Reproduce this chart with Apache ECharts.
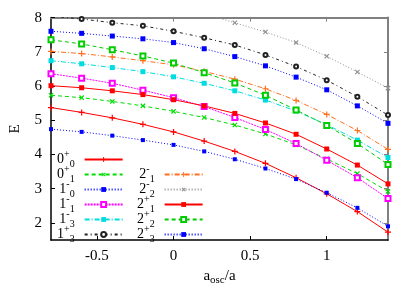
<!DOCTYPE html>
<html><head><meta charset="utf-8">
<script src="https://cdn.jsdelivr.net/npm/echarts@6/dist/echarts.min.js"></script>
<style>html,body{margin:0;padding:0;background:#fff}#c{width:415px;height:291px}</style>
</head><body><div id="c"></div>
<script>
const xs = [-0.8,-0.6,-0.4,-0.2,0,0.2,0.4,0.6,0.8,1.0,1.2,1.4];
const xTicks = [-0.5,0,0.5,1];
const yTicks = [2,3,4,5,6,7,8];
const e0p0 = [5.37,5.23,5.07,4.88,4.66,4.39,4.09,3.74,3.32,2.85,2.33,1.73];
const e0p1 = [5.73,5.66,5.55,5.42,5.26,5.08,4.86,4.60,4.28,3.87,3.44,2.92];
const e1m0 = [4.74,4.66,4.55,4.42,4.28,4.09,3.86,3.59,3.28,2.88,2.44,1.90];
const e1m1 = [6.36,6.23,6.08,5.88,5.66,5.40,5.08,4.73,4.32,3.83,3.32,2.71];
const e1m3 = [6.74,6.65,6.54,6.42,6.27,6.08,5.86,5.59,5.27,4.87,4.42,3.91];
const e1p3 = [8.04,7.96,7.85,7.76,7.60,7.41,7.20,6.91,6.57,6.17,5.69,5.15];
const e2m1 = [7.01,6.95,6.85,6.74,6.62,6.43,6.20,5.92,5.58,5.17,4.70,4.15];
const e2m2 = [8.75,8.65,8.55,8.45,8.30,8.11,7.85,7.58,7.27,6.87,6.41,5.94];
const e2p1 = [6.01,5.95,5.86,5.75,5.60,5.42,5.20,4.92,4.59,4.16,3.69,3.14];
const e2p2 = [7.35,7.23,7.06,6.88,6.67,6.39,6.09,5.73,5.30,4.85,4.32,3.71];
const e2p3 = [7.60,7.54,7.46,7.38,7.27,7.09,6.86,6.59,6.26,5.89,5.42,4.91];
const names = ['0+0','0+1','1-0','1-1','1-3','1+3','2-1','2-2','2+1','2+2','2+3'];

const PLUS = 'path://M4,0H6V4H10V6H6V10H4V6H0V4H4Z';
const F = 'Liberation Serif';
function mk(name, data, color, symbol, size, dash, rot) {
  return {
    name, type: 'line', data: xs.map((x,i)=>[x,data[i]]),
    symbol, symbolSize: size, symbolRotate: rot||0,
    itemStyle: {color, borderWidth: 1},
    lineStyle: {color, width: 1, type: dash},
    emphasis: {disabled: true}, animation: false, clip: true, z: 3
  };
}
const series = [
  mk('0+0', e0p0, '#ff0000', PLUS, 6, 'solid'),
  mk('0+1', e0p1, '#00dd00', PLUS, 6, [4,3], 45),
  mk('1-0', e1m0, '#0000ff', 'rect', 4, [1,2]),
  mk('1-1', e1m1, '#ff00ff', 'emptyRect', 5, [2,1]),
  mk('1-3', e1m3, '#00dde0', 'rect', 5, [5,2,1,2]),
  mk('1+3', e1p3, '#222222', 'emptyCircle', 4, [3,3,1,3]),
  mk('2-1', e2m1, '#ff7020', PLUS, 6, [5,2,1,2]),
  mk('2-2', e2m2, '#909090', PLUS, 6, [1,2], 45),
  mk('2+1', e2p1, '#ff0000', 'rect', 5, 'solid'),
  mk('2+2', e2p2, '#00cc00', 'emptyRect', 5, [4,3]),
  mk('2+3', e2p3, '#0000ff', 'rect', 5, [1,2])
];
const rich = {
  m: {fontFamily: F, fontSize: 14, color: '#000', lineHeight: 20, verticalAlign: 'middle'},
  u: {fontFamily: F, fontSize: 10, color: '#000', lineHeight: 10, verticalAlign: 'top'},
  d: {fontFamily: F, fontSize: 10, color: '#000', lineHeight: 10, verticalAlign: 'bottom', padding: [0,5,0,0]}
};
const fmt = n => `{m|${n[0]}}{u|${n[1]}}{d|${n[2]}}`;
function leg(data, left, top) {
  return {
    data, orient: 'vertical', align: 'right', left, top,
    itemWidth: 38, itemHeight: 6, itemGap: -5, padding: 0,
    formatter: fmt, textStyle: {rich, fontFamily: F, fontSize: 14},
    selectedMode: false
  };
}
const axLbl = {fontFamily: F, fontSize: 15, color: '#000'};
const option = {
  backgroundColor: '#fff',
  animation: false,
  grid: {left: 41, right: 27, top: 17.6, bottom: 45},
  legend: [leg(names.slice(0,6), 57, 149.5), leg(names.slice(6), 137, 164.5)],
  xAxis: [
    {type: 'value', min: -0.8, max: 1.4, position: 'bottom',
     name: '{a|a}{s|osc}{a|/a}', nameLocation: 'middle', nameGap: 27,
     nameTextStyle: {rich: {a: {fontFamily: F, fontSize: 15, color: '#000'}, s: {fontFamily: F, fontSize: 11, color: '#000', padding: [8,0,0,0]}}},
     axisLine: {show: true, onZero: false, lineStyle: {color: '#000', width: 1.5}},
     axisTick: {show: true, inside: true, length: 4, customValues: xTicks, lineStyle: {color: '#000'}},
     axisLabel: {customValues: xTicks, margin: 9, ...axLbl, formatter: v => String(v)},
     splitLine: {show: false}},
    {type: 'value', min: -0.8, max: 1.4, position: 'top',
     axisLine: {show: true, onZero: false, lineStyle: {color: '#808080', width: 2}},
     axisTick: {show: true, inside: true, length: 4, customValues: xTicks, lineStyle: {color: '#808080'}},
     axisLabel: {show: false}, splitLine: {show: false}}
  ],
  yAxis: [
    {type: 'value', min: 1.5, max: 8, position: 'left',
     name: 'E', nameLocation: 'middle', nameGap: 28, nameRotate: 90,
     nameTextStyle: {fontFamily: F, fontSize: 15, color: '#000'},
     axisLine: {show: true, onZero: false, lineStyle: {color: '#000', width: 1.5}},
     axisTick: {show: true, inside: true, length: 4, customValues: yTicks, lineStyle: {color: '#000'}},
     axisLabel: {customValues: yTicks, margin: 9, ...axLbl},
     splitLine: {show: false}},
    {type: 'value', min: 1.5, max: 8, position: 'right',
     axisLine: {show: true, onZero: false, lineStyle: {color: '#808080', width: 2}},
     axisTick: {show: true, inside: true, length: 4, customValues: yTicks, lineStyle: {color: '#808080'}},
     axisLabel: {show: false}, splitLine: {show: false}}
  ],
  series
};
const chart = echarts.init(document.getElementById('c'), null, {renderer: 'canvas'});
chart.setOption(option);
</script>
</body></html>
